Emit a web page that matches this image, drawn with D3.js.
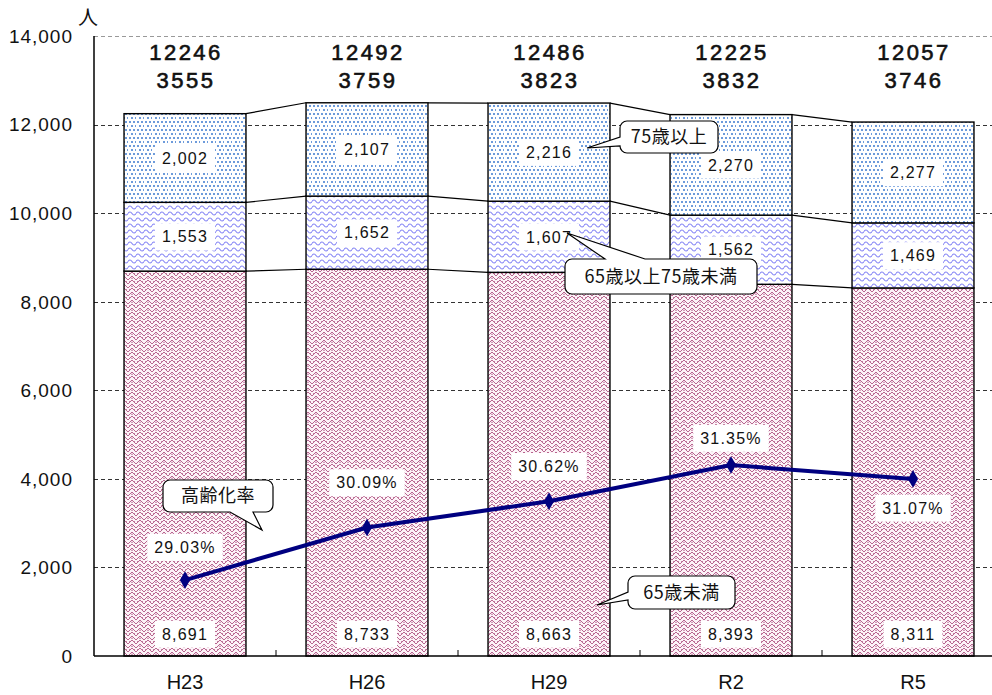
<!DOCTYPE html>
<html>
<head>
<meta charset="utf-8">
<script src="https://cdn.jsdelivr.net/npm/d3@7"></script>
<style>
  body { margin: 0; background: #fff; overflow: hidden; }
  text { font-family: "Liberation Sans", Arial, "Noto Sans CJK JP", sans-serif; fill: #111; }
  .jp { font-family: "Noto Sans CJK JP", sans-serif; }
</style>
</head>
<body>
<div id="chart"></div>
<script>
// data
const years = ["H23", "H26", "H29", "R2", "R5"];
const under65 = [8691, 8733, 8663, 8393, 8311];
const age65to74 = [1553, 1652, 1607, 1562, 1469];
const age75plus = [2002, 2107, 2216, 2270, 2277];
const totals = [12246, 12492, 12486, 12225, 12057];
const elderly = [3555, 3759, 3823, 3832, 3746];
const agingRate = [29.03, 30.09, 30.62, 31.35, 31.07];
const yTicks = [0, 2000, 4000, 6000, 8000, 10000, 12000, 14000];

const width = 992, height = 695;
const plotLeft = 94, plotTop = 36, plotBottom = 656;

const svg = d3.select("#chart").append("svg")
    .attr("width", width)
    .attr("height", height);

// patterns
const defs = svg.append("defs");

const dots = defs.append("pattern").attr("id", "dots")
    .attr("patternUnits", "userSpaceOnUse").attr("width", 8).attr("height", 8);
dots.append("rect").attr("width", 8).attr("height", 8).attr("fill", "#fff");
[[1, 1], [5, 1], [3, 5], [7, 5]].forEach(p => {
    dots.append("rect").attr("x", p[0]).attr("y", p[1]).attr("width", 2).attr("height", 2).attr("fill", "#6d9bdb");
});

const wave = defs.append("pattern").attr("id", "wave")
    .attr("patternUnits", "userSpaceOnUse").attr("width", 8).attr("height", 6);
wave.append("rect").attr("width", 8).attr("height", 6).attr("fill", "#fff");
wave.append("path").attr("d", "M0,3.5 Q2,0.5 4,3.5 T8,3.5")
    .attr("fill", "none").attr("stroke", "#8383f5").attr("stroke-width", 1.1);

const weave = defs.append("pattern").attr("id", "weave")
    .attr("patternUnits", "userSpaceOnUse").attr("width", 8).attr("height", 8);
weave.append("rect").attr("width", 8).attr("height", 8).attr("fill", "#fcf3f7");
weave.append("path").attr("d", "M0,4 L4,0 L8,4 M0,8 L4,4 L8,8 M-1,1 L0,0 M8,0 L9,1")
    .attr("fill", "none").attr("stroke", "#b86690").attr("stroke-width", 1);
weave.append("path").attr("d", "M1,2 L2,1 M6,1 L7,2 M3,6.5 L4,6 L5,6.5")
    .attr("fill", "none").attr("stroke", "#b86690").attr("stroke-width", 0.8);

// scales
const x = d3.scaleBand().domain(years).range([plotLeft, plotLeft + 5 * 182]).padding(0);
const barW = x.bandwidth() * 0.67;
const bx = d => x(d) + (x.bandwidth() - barW) / 2;
const cx = d => x(d) + x.bandwidth() / 2;

const y = d3.scaleLinear().domain([0, 14000]).range([plotBottom, plotTop]);
const y2 = d3.scaleLinear().domain([27.5, 40]).range([plotBottom, plotTop]);

// gridlines
svg.append("g").selectAll("line")
    .data(yTicks.filter(t => t > 0))
    .enter().append("line")
    .attr("x1", plotLeft).attr("x2", width)
    .attr("y1", d => Math.round(y(d)) + 0.5).attr("y2", d => Math.round(y(d)) + 0.5)
    .attr("stroke", d => d === 14000 ? "#999" : "#333")
    .attr("stroke-dasharray", "4,3")
    .attr("stroke-width", 1);

// stacked data
const series = years.map((yr, i) => {
    const a = under65[i], b = a + age65to74[i], c = b + age75plus[i];
    return [
        { yr, y0: 0, y1: a, v: under65[i], fill: "url(#weave)" },
        { yr, y0: a, y1: b, v: age65to74[i], fill: "url(#wave)" },
        { yr, y0: b, y1: c, v: age75plus[i], fill: "url(#dots)" }
    ];
});
const segs = series.flat();

// series lines between bars
const bounds = [under65, years.map((_, i) => under65[i] + age65to74[i]), totals];
bounds.forEach(arr => {
    for (let i = 0; i < years.length - 1; i++) {
        svg.append("line")
            .attr("x1", bx(years[i]) + barW).attr("y1", y(arr[i]))
            .attr("x2", bx(years[i + 1])).attr("y2", y(arr[i + 1]))
            .attr("stroke", "#000").attr("stroke-width", 1.2);
    }
});

svg.append("g").selectAll("rect")
    .data(segs)
    .enter().append("rect")
    .attr("x", d => bx(d.yr))
    .attr("y", d => y(d.y1))
    .attr("width", barW)
    .attr("height", d => y(d.y0) - y(d.y1))
    .attr("fill", d => d.fill)
    .attr("stroke", "#000")
    .attr("stroke-width", 1.4);

// axes
svg.append("line").attr("x1", plotLeft).attr("x2", plotLeft).attr("y1", plotTop).attr("y2", plotBottom)
    .attr("stroke", "#000").attr("stroke-width", 1.5);
svg.append("line").attr("x1", plotLeft).attr("x2", width).attr("y1", plotBottom).attr("y2", plotBottom)
    .attr("stroke", "#000").attr("stroke-width", 1.5);
// category ticks
svg.append("g").selectAll("line")
    .data(years.slice(1))
    .enter().append("line")
    .attr("x1", d => x(d)).attr("x2", d => x(d))
    .attr("y1", plotBottom - 6).attr("y2", plotBottom)
    .attr("stroke", "#000");

svg.append("g").selectAll("text")
    .data(yTicks)
    .enter().append("text")
    .attr("x", 73).attr("y", d => y(d))
    .attr("dy", "0.36em")
    .attr("text-anchor", "end")
    .attr("font-size", 19)
    .attr("letter-spacing", 1)
    .text(d => d3.format(",")(d));

svg.append("text").attr("class", "jp")
    .attr("x", 78).attr("y", 25).attr("font-size", 20).text("人");

svg.append("g").selectAll("text")
    .data(years)
    .enter().append("text")
    .attr("x", d => cx(d)).attr("y", 689)
    .attr("text-anchor", "middle")
    .attr("font-size", 20)
    .text(d => d);

// totals on top
years.forEach((yr, i) => {
    [totals[i], elderly[i]].forEach((v, k) => {
        svg.append("text").attr("x", cx(yr) + 1).attr("y", 60 + k * 28)
            .attr("text-anchor", "middle").attr("font-size", 22)
            .attr("stroke", "#111").attr("stroke-width", 0.6)
            .attr("letter-spacing", 2.5).text(v);
    });
});

// boxed label helper
function boxLabel(px, py, txt, size) {
    const g = svg.append("g");
    const t = g.append("text").attr("x", px).attr("y", py).attr("dy", "0.36em")
        .attr("text-anchor", "middle").attr("font-size", size).attr("letter-spacing", 1.2).text(txt);
    const bb = t.node().getBBox();
    g.insert("rect", "text")
        .attr("x", bb.x - 7).attr("y", bb.y - 5)
        .attr("width", bb.width + 14).attr("height", bb.height + 10)
        .attr("fill", "#fff");
}

const fmt = d3.format(",");
segs.forEach(d => {
    const ly = d.y0 === 0 ? y(0) - 22 : y((d.y0 + d.y1) / 2);
    boxLabel(cx(d.yr), ly, fmt(d.v), 16);
});

// aging rate line
const line = d3.line().x((d, i) => cx(years[i])).y(d => y2(d));
svg.append("path").datum(agingRate)
    .attr("d", line)
    .attr("fill", "none").attr("stroke", "#000080").attr("stroke-width", 4);
svg.append("g").selectAll("path")
    .data(agingRate)
    .enter().append("path")
    .attr("d", d3.symbol(d3.symbolDiamond, 90))
    .attr("transform", (d, i) => `translate(${cx(years[i])},${y2(d)})`)
    .attr("fill", "#000080");

const rateOffset = [-33, -45, -35, -27, 29];
agingRate.forEach((r, i) => {
    boxLabel(cx(years[i]), y2(r) + rateOffset[i], r.toFixed(2) + "%", 16);
});

// callouts
function calloutPath(x0, y0, x1, y1, r, side, a, b, tip) {
    const p = d3.path();
    p.moveTo(x0 + r, y0);
    if (side === "top") { p.lineTo(a, y0); p.lineTo(tip[0], tip[1]); p.lineTo(b, y0); }
    p.lineTo(x1 - r, y0);
    p.arcTo(x1, y0, x1, y0 + r, r);
    p.lineTo(x1, y1 - r);
    p.arcTo(x1, y1, x1 - r, y1, r);
    if (side === "bottom") { p.lineTo(b, y1); p.lineTo(tip[0], tip[1]); p.lineTo(a, y1); }
    p.lineTo(x0 + r, y1);
    p.arcTo(x0, y1, x0, y1 - r, r);
    if (side === "left") { p.lineTo(x0, b); p.lineTo(tip[0], tip[1]); p.lineTo(x0, a); }
    p.lineTo(x0, y0 + r);
    p.arcTo(x0, y0, x0 + r, y0, r);
    p.closePath();
    return p.toString();
}

const callouts = [
    { box: [620, 121, 718, 153], side: "left", a: 137, b: 146, tip: [587, 148], text: "75歳以上" },
    { box: [565, 259, 757, 294], side: "top", a: 605, b: 645, tip: [567, 233], text: "65歳以上75歳未満" },
    { box: [163, 480, 273, 512], side: "bottom", a: 230, b: 253, tip: [262, 530], text: "高齢化率" },
    { box: [628, 576, 735, 609], side: "left", a: 592, b: 600, tip: [597, 605], text: "65歳未満" }
];
callouts.forEach(c => {
    const [x0, y0, x1, y1] = c.box;
    svg.append("path")
        .attr("d", calloutPath(x0, y0, x1, y1, 7, c.side, c.a, c.b, c.tip))
        .attr("fill", "#fff").attr("stroke", "#000").attr("stroke-width", 1.2);
    svg.append("text").attr("class", "jp")
        .attr("x", (x0 + x1) / 2).attr("y", (y0 + y1) / 2).attr("dy", "0.36em")
        .attr("text-anchor", "middle").attr("font-size", 18).attr("letter-spacing", 0.5)
        .text(c.text);
});
</script>
</body>
</html>
